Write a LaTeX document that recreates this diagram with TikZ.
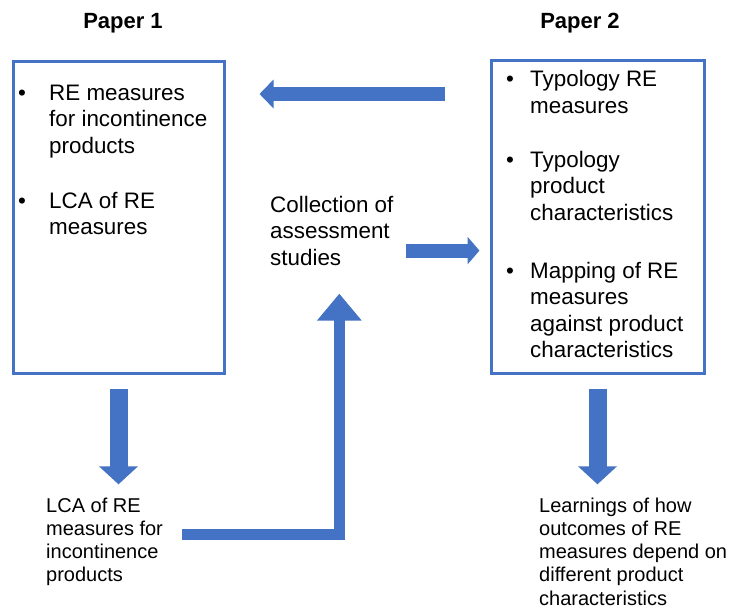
\documentclass[tikz,border=0pt]{standalone}
\usepackage{fontspec}
\setmainfont{Liberation Sans}
\usetikzlibrary{arrows.meta}
\usetikzlibrary{positioning}
\definecolor{paperblue}{HTML}{4472C4}
\tikzstyle{paperbox} = [rectangle, draw=paperblue, line width=3pt, anchor=north west, inner sep=0pt]
\tikzstyle{papertitle} = [font=\bfseries\fontsize{22}{26}\selectfont, anchor=base, inner sep=0pt]
\tikzstyle{bulletdot} = [font=\fontsize{22.4}{26.6}\selectfont, anchor=base, inner sep=0pt]
\tikzstyle{bulletitem} = [font=\fontsize{22.4}{26.6}\selectfont, align=left, anchor=base west, inner sep=0pt]
\tikzstyle{sidetext} = [font=\fontsize{22.4}{26.6}\selectfont, align=left, anchor=base west, inner sep=0pt]
\tikzstyle{outcome} = [font=\fontsize{20}{23.3}\selectfont, align=left, anchor=base west, inner sep=0pt]
\tikzstyle{backarrow} = [draw=paperblue, line width=14pt, -{Triangle[width=28pt,length=14pt]}]
\tikzstyle{feedarrow} = [draw=paperblue, line width=14pt, -{Triangle[width=27pt,length=12pt]}]
\tikzstyle{downarrow} = [draw=paperblue, line width=18pt, -{Triangle[width=38pt,length=18pt]}]
\tikzstyle{risearrow} = [draw=paperblue, line width=11pt, line join=miter, -{Triangle[width=43pt,length=27pt]}]

\begin{document}
\begin{tikzpicture}[x=1pt, y=-1pt]
\useasboundingbox (0,0) rectangle (729,610);

% ===== Paper 1 (left) =====
\node (p1box) [paperbox, minimum width=211pt, minimum height=311pt] at (11.5,60.5) {};
\node (p1title) [papertitle] at (123,29) {Paper 1};

% multi-line nodes sit on the baseline of their last line
\node (p1dota) [bulletdot] at (22,100) {\textbullet};
\node (p1itema) [bulletitem] at (49,153.2) {RE measures\\for incontinence\\products};
\node (p1dotb) [bulletdot] at (22,208) {\textbullet};
\node (p1itemb) [bulletitem] at (49,234.6) {LCA of RE\\measures};

% ===== Paper 2 (right) =====
\node (p2box) [paperbox, minimum width=213pt, minimum height=312pt] at (489.5,59.5) {};
\node (p2title) [papertitle] at (580,29) {Paper 2};

\node (p2dota) [bulletdot] at (510,87) {\textbullet};
\node (p2itema) [bulletitem] at (530,113.6) {Typology RE\\measures};
\node (p2dotb) [bulletdot] at (510,167) {\textbullet};
\node (p2itemb) [bulletitem] at (530,220.2) {Typology\\product\\characteristics};
\node (p2dotc) [bulletdot] at (510,278) {\textbullet};
\node (p2itemc) [bulletitem] at (530,357.8) {Mapping of RE\\measures\\against product\\characteristics};

% ===== middle and outcomes =====
\node (colltext) [sidetext] at (270,265.2) {Collection of\\assessment\\studies};
\node (lcatext) [outcome] at (46,581.9) {LCA of RE\\measures for\\incontinence\\products};
\node (learntext) [outcome] at (539,605.2) {Learnings of how\\outcomes of RE\\measures depend on\\different product\\characteristics};

% free ends
\coordinate (p2back) at ([yshift=-34.5pt]p2box.north west);
\coordinate (collout) at ([xshift=12pt,yshift=-20pt]colltext.east);
\coordinate (lcaout) at ([xshift=19pt,yshift=7pt]lcatext.east);
\coordinate (collin) at ([xshift=7.5pt]colltext.south);

% arrows
\draw [backarrow, shorten <=45pt, shorten >=34pt] (p2back) -- (p2back -| p1box.east);
\draw [feedarrow, shorten >=10pt] (collout) -- (collout -| p2box.west);
\draw [risearrow, shorten >=28pt] (lcaout) -| (collin);
\draw [downarrow, shorten <=14pt, shorten >=13pt] (p1box.south) -- (p1box.south |- lcatext.north);
\draw [downarrow, shorten <=14pt, shorten >=13pt] (p2box.south) -- (p2box.south |- learntext.north);

\end{tikzpicture}
\end{document}
